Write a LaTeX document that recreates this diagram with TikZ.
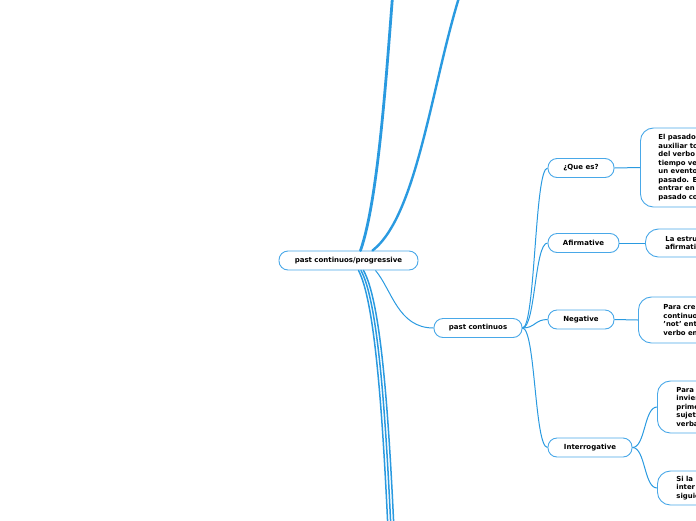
\documentclass[tikz,border=0pt]{standalone}
\usepackage{fontspec}
\setmainfont{DejaVu Sans}
\usepackage{xcolor}
\usepackage{tikz}
\definecolor{mmline}{HTML}{2A9AE0}
\definecolor{mmedge}{HTML}{49A8E8}
\tikzset{
  topic/.style={draw=mmedge, line width=0.9pt, fill=white, rounded corners=9pt,
    minimum height=19pt, inner sep=0pt, font=\fontsize{7}{8}\selectfont\bfseries},
  leaf/.style={draw=mmedge, line width=0.9pt, fill=white, rounded corners=13pt,
    anchor=west, align=left, text width=70pt, inner ysep=0pt,
    font=\fontsize{6.9}{8.5}\selectfont\bfseries},
  link/.style={draw=mmline, line width=1pt},
  trunk/.style={draw=mmline, line cap=round}
}
% branch from a topic to a child, mind-map curve
\newcommand{\mlink}[2]{%
  \draw[link] (#1.east) .. controls +(13,0) and +(-13,0) .. (#2.west);}

\begin{document}
\begin{tikzpicture}[x=1pt,y=-1pt]
  \useasboundingbox (0,0) rectangle (696,520);
  \clip (0,0) rectangle (696,520);

  % topics
  \node[topic, minimum width=139pt] (root) at (348.5,260.5) {past continuos/progressive};
  \node[topic, minimum width=88pt] (pc) at (478,328) {past continuos};
  \node[topic, minimum width=66pt] (que) at (581,168) {¿Que es?};
  \node[topic, minimum width=71pt] (afi) at (583.5,243) {Afirmative};
  \node[topic, minimum width=66pt] (neg) at (581,319.5) {Negative};
  \node[topic, minimum width=84pt] (int) at (590,447.5) {Interrogative};

  % leaves (cut by the right edge)
  \node[leaf, minimum height=79pt, inner xsep=18pt] (queL) at (640,167.5)
    {El pasado\\auxiliar to\\del verbo\\tiempo ve\\un evento\\pasado. E\\entrar en\\pasado co};
  \node[leaf, minimum height=28pt, inner xsep=20pt] (afiL) at (645,243)
    {La estru\\afirmati};
  \node[leaf, minimum height=46pt, inner xsep=25pt] (negL) at (638,320)
    {Para cre\\continuo\\'not' ent\\verbo en};
  \node[leaf, minimum height=52pt, inner xsep=19pt] (intA) at (657,407)
    {Para\\invier\\prime\\sujet\\verba};
  \node[leaf, minimum height=34pt, inner xsep=19pt] (intB) at (657,488)
    {Si la\\inter\\siguie};

  % off-page ends of the main branches
  \coordinate (upA) at (393,-10);
  \coordinate (upB) at (462,-12);
  \coordinate (dnA) at (388,530);
  \coordinate (dnB) at (391,530);
  \coordinate (dnC) at (394,530);

  % main branches
  \draw[trunk, line width=2.8pt] ([xshift=12pt]root.north) .. controls (378,200) and (386,80) .. (upA);
  \draw[trunk, line width=2.4pt] ([xshift=24pt]root.north) .. controls (418,215) and (432,80) .. (upB);
  \draw[trunk, line width=1.5pt] ([xshift=10pt]root.south) .. controls (374,300) and (382,400) .. (dnA);
  \draw[trunk, line width=1.5pt] ([xshift=12.5pt]root.south) .. controls (377,300) and (385,400) .. (dnB);
  \draw[trunk, line width=1.5pt] ([xshift=15pt]root.south) .. controls (380,300) and (388,400) .. (dnC);
  \draw[link] ([xshift=27pt]root.south) .. controls (392,290) and (398,328) .. (pc.west);

  % sub branches
  \mlink{pc}{que}
  \mlink{pc}{afi}
  \mlink{pc}{neg}
  \mlink{pc}{int}
  \draw[link] (que.east) -- (queL.west);
  \draw[link] (afi.east) -- (afiL.west);
  \draw[link] (neg.east) -- (negL.west);
  \mlink{int}{intA}
  \mlink{int}{intB}
\end{tikzpicture}
\end{document}
